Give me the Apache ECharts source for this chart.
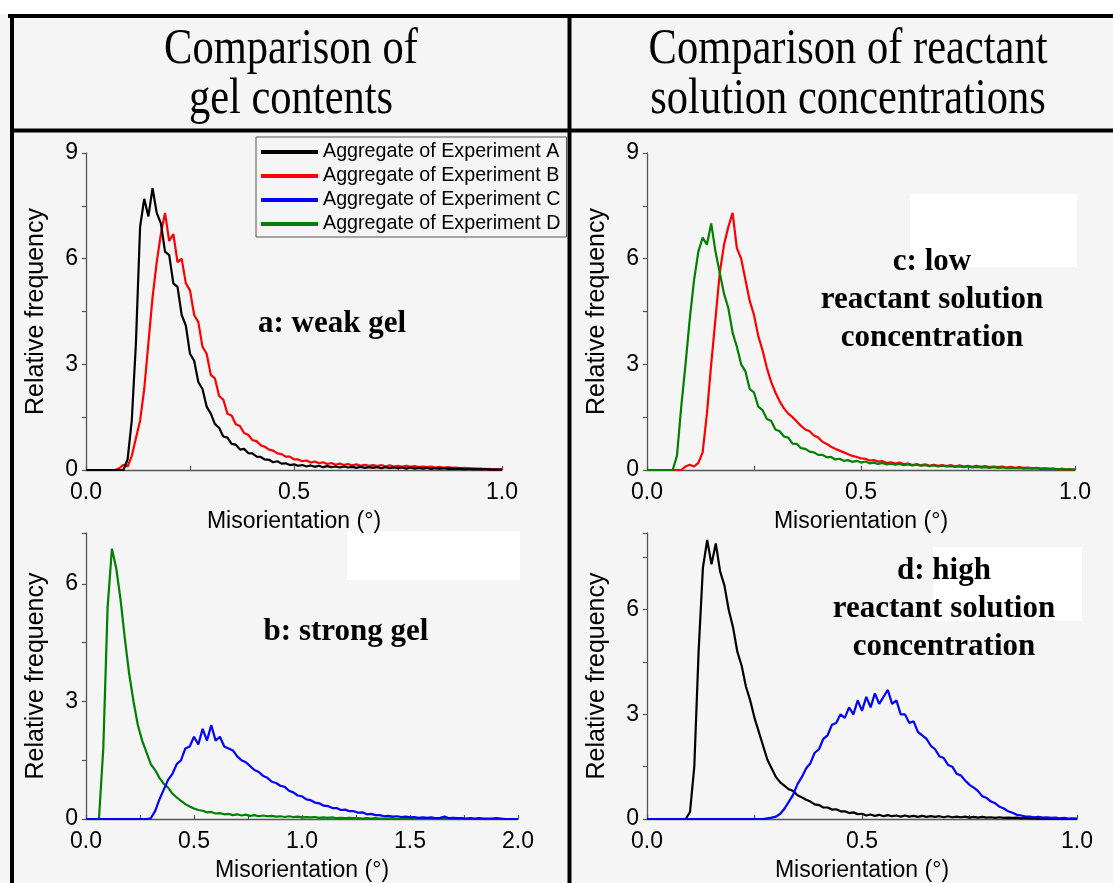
<!DOCTYPE html>
<html>
<head>
<meta charset="utf-8">
<title>Misorientation distributions</title>
<script src="https://cdn.jsdelivr.net/npm/echarts@6/dist/echarts.min.js"></script>
<style>
  html, body { margin: 0; padding: 0; background: #fff; }
  #chart { width: 1113px; height: 883px; }
</style>
</head>
<body>
<div id="chart"></div>
<script>
// bin widths (degrees) of the histograms
const BIN_FINE = 0.01   // panels a, c, d
const BIN_WIDE = 0.02   // panel b

const NAME_A = 'Aggregate of Experiment A'
const NAME_B = 'Aggregate of Experiment B'
const NAME_C = 'Aggregate of Experiment C'
const NAME_D = 'Aggregate of Experiment D'

// panel a: weak gel (0 - 1.0, step 0.01)
const aA = [0,0,0,0,0,0,0,0,0,0,
  0.3,1.4,3.6,6.9,7.7,7.2,8.0,7.3,7.0,6.2,
  6.1,5.3,5.2,4.4,4.1,3.3,3.1,2.5,2.3,1.8,
  1.6,1.3,1.2,0.95,0.92,0.74,0.72,0.58,0.6,0.48,
  0.47,0.38,0.37,0.3,0.29,0.22,0.25,0.18,0.19,0.14,
  0.16,0.12,0.14,0.1,0.13,0.09,0.12,0.08,0.11,0.08,
  0.1,0.07,0.1,0.07,0.09,0.06,0.09,0.06,0.08,0.06,
  0.08,0.05,0.08,0.05,0.07,0.05,0.07,0.04,0.07,0.04,
  0.06,0.04,0.06,0.03,0.05,0.03,0.05,0.03,0.04,0.03,
  0.04,0.02,0.04,0.02,0.03,0.02,0.03,0.01,0.02,0.01,
  0.01]
const aB = [0,0,0,0,0,0,0,0,0.05,0.15,
  0.1,0.4,0.9,1.4,2.3,3.6,4.9,5.9,6.7,7.3,
  6.5,6.7,5.9,6.0,5.3,5.1,4.4,4.2,3.5,3.3,
  2.7,2.6,2.1,2.0,1.6,1.55,1.3,1.25,1.05,1.0,
  0.85,0.82,0.7,0.66,0.58,0.55,0.47,0.45,0.38,0.38,
  0.3,0.3,0.25,0.27,0.21,0.24,0.19,0.22,0.17,0.2,
  0.15,0.18,0.14,0.17,0.13,0.16,0.12,0.15,0.12,0.14,
  0.11,0.14,0.1,0.13,0.1,0.12,0.09,0.12,0.09,0.11,
  0.08,0.1,0.08,0.1,0.07,0.09,0.06,0.08,0.06,0.07,
  0.05,0.06,0.04,0.05,0.03,0.04,0.02,0.03,0.01,0.02,
  0.01]

// panel b: strong gel (0 - 2.0, step 0.02)
const bD = [0,0,0,0,1.8,5.4,6.9,6.4,5.6,4.6,
  3.7,3.0,2.4,2.0,1.7,1.4,1.25,1.05,0.9,0.8,
  0.65,0.55,0.46,0.38,0.32,0.27,0.23,0.21,0.17,0.18,
  0.14,0.15,0.12,0.13,0.1,0.12,0.09,0.11,0.08,0.1,
  0.07,0.09,0.07,0.08,0.06,0.07,0.05,0.07,0.05,0.06,
  0.04,0.05,0.04,0.05,0.03,0.04,0.03,0.04,0.02,0.03,
  0.02,0.03,0.02,0.02,0.01,0.02,0.01,0.02,0.01,0.01,
  0.01,0.01,0,0.01,0,0.01,0,0,0.01,0,
  0,0,0,0,0,0,0,0,0,0,
  0,0,0,0,0,0,0,0,0,0,
  0]
const bC = [0,0,0,0,0,0,0,0,0,0,
  0,0,0,0,0,0.02,0.2,0.5,0.75,1.0,
  1.15,1.4,1.5,1.8,1.85,2.1,1.9,2.3,2.0,2.4,
  2.0,2.1,1.85,1.8,1.75,1.6,1.5,1.45,1.35,1.25,
  1.2,1.1,1.05,0.95,0.92,0.85,0.82,0.72,0.68,0.6,
  0.58,0.5,0.48,0.42,0.4,0.34,0.33,0.28,0.28,0.23,
  0.24,0.2,0.2,0.16,0.17,0.12,0.13,0.1,0.1,0.07,
  0.08,0.06,0.07,0.05,0.06,0.04,0.05,0.03,0.04,0.03,
  0.04,0.02,0.03,0.06,0.02,0.03,0.02,0.02,0.01,0.02,
  0.01,0.02,0.01,0.01,0.01,0.02,0.01,0,0,0,
  0]

// panel c: low reactant solution concentration (0 - 1.0, step 0.01)
const cB = [0,0,0,0,0,0,0,0,0,0.1,
  0.15,0.1,0.2,0.5,1.6,3.0,4.3,5.6,6.4,6.9,
  7.3,6.3,6.0,5.4,4.8,4.4,3.8,3.4,2.9,2.5,
  2.2,1.95,1.75,1.6,1.5,1.38,1.25,1.15,1.1,0.98,
  0.92,0.8,0.74,0.66,0.6,0.55,0.5,0.45,0.4,0.37,
  0.33,0.32,0.27,0.28,0.24,0.25,0.2,0.22,0.18,0.21,
  0.17,0.18,0.14,0.17,0.13,0.16,0.12,0.15,0.12,0.14,
  0.11,0.14,0.1,0.13,0.1,0.12,0.09,0.12,0.09,0.11,
  0.08,0.1,0.08,0.1,0.07,0.09,0.06,0.08,0.06,0.07,
  0.05,0.06,0.04,0.05,0.03,0.04,0.02,0.03,0.01,0.02,
  0.01]
const cD = [0,0,0,0,0,0,0,0.4,1.8,3.0,
  4.3,5.4,6.2,6.6,6.4,7.0,6.2,5.6,5.0,4.6,
  3.9,3.5,3.0,2.8,2.3,2.2,1.8,1.7,1.45,1.4,
  1.15,1.1,0.95,0.92,0.75,0.74,0.62,0.6,0.52,0.5,
  0.43,0.43,0.36,0.37,0.3,0.32,0.26,0.28,0.23,0.26,
  0.21,0.24,0.19,0.21,0.17,0.2,0.16,0.18,0.15,0.17,
  0.14,0.16,0.13,0.15,0.12,0.14,0.11,0.13,0.1,0.12,
  0.1,0.11,0.09,0.1,0.08,0.1,0.07,0.09,0.07,0.08,
  0.06,0.08,0.06,0.07,0.05,0.06,0.05,0.06,0.04,0.05,
  0.04,0.05,0.03,0.04,0.03,0.03,0.02,0.03,0.02,0.02,
  0.01]

// panel d: high reactant solution concentration (0 - 1.0, step 0.01)
const dA = [0,0,0,0,0,0,0,0,0,0,
  0.2,1.5,4.8,7.2,8.0,7.3,7.9,7.1,6.7,6.0,
  5.5,4.8,4.4,3.8,3.4,2.9,2.5,2.1,1.7,1.45,
  1.2,1.05,0.95,0.85,0.8,0.68,0.62,0.55,0.5,0.42,
  0.4,0.33,0.33,0.27,0.28,0.22,0.22,0.17,0.19,0.14,
  0.15,0.1,0.13,0.09,0.12,0.08,0.11,0.08,0.1,0.07,
  0.1,0.07,0.09,0.06,0.09,0.06,0.08,0.06,0.08,0.05,
  0.08,0.05,0.07,0.05,0.07,0.04,0.06,0.04,0.06,0.04,
  0.05,0.03,0.05,0.03,0.04,0.03,0.04,0.02,0.03,0.02,
  0.02,0.01,0.02,0.01,0,0.01,0,0,0,0,
  0]
const dC = [0,0,0,0,0,0,0,0,0,0,
  0,0,0,0,0,0,0,0,0,0,
  0,0,0,0,0,0,0,0,0.02,0.04,
  0.07,0.15,0.3,0.5,0.7,1.0,1.2,1.45,1.6,1.9,
  2.0,2.3,2.4,2.7,2.75,3.0,2.9,3.2,3.0,3.4,
  3.1,3.5,3.2,3.6,3.3,3.5,3.7,3.3,3.4,3.0,
  3.0,2.75,2.8,2.5,2.4,2.3,2.1,2.0,1.8,1.75,
  1.55,1.5,1.3,1.25,1.1,0.98,0.9,0.8,0.65,0.6,
  0.5,0.45,0.35,0.3,0.22,0.18,0.12,0.1,0.07,0.07,
  0.05,0.06,0.04,0.05,0.03,0.04,0.02,0.03,0.01,0.02,
  0.01]

const SANS = '"Liberation Sans", Arial, sans-serif'
const SERIF = '"Liberation Serif", "Times New Roman", serif'
const COLORS = { A: '#000000', B: '#ff0000', C: '#0000ff', D: '#008000' }

// histogram values -> [x, y] pairs on the bin grid
function pairs(values, step) {
  return values.map((v, i) => [+(i * step).toFixed(3), v])
}

function xAxis(gridIndex, max) {
  return {
    type: 'value', gridIndex, min: 0, max, interval: 0.25,
    name: 'Misorientation (°)', nameLocation: 'middle', nameGap: 40,
    nameTextStyle: { fontSize: 23, color: '#000', fontFamily: SANS },
    axisLine: { onZero: false, lineStyle: { color: '#555', width: 1.3 } },
    axisTick: { inside: true, length: 4, lineStyle: { color: '#555', width: 1.2 } },
    axisLabel: {
      fontSize: 23, color: '#000', fontFamily: SANS, margin: 11,
      formatter: (v) => (Math.abs(v * 2 - Math.round(v * 2)) < 1e-6 ? v.toFixed(1) : '')
    },
    splitLine: { show: false }
  }
}

function yAxis(gridIndex, max) {
  return {
    type: 'value', gridIndex, min: 0, max, interval: 1.5,
    name: 'Relative frequency', nameLocation: 'middle', nameGap: 37,
    nameTextStyle: { fontSize: 25, color: '#000', fontFamily: SANS },
    axisLine: { show: true, onZero: false, lineStyle: { color: '#555', width: 1.3 } },
    axisTick: { show: true, length: 4, lineStyle: { color: '#555', width: 1.2 } },
    axisLabel: {
      fontSize: 23, color: '#000', fontFamily: SANS, margin: 8,
      formatter: (v) => (Math.abs(v % 3) < 1e-6 ? String(v) : '')
    },
    splitLine: { show: false }
  }
}

function line(name, color, data, axis) {
  return {
    name, type: 'line', xAxisIndex: axis, yAxisIndex: axis,
    data, showSymbol: false, symbol: 'none',
    color, lineStyle: { color, width: 2.2 },
    emphasis: { disabled: true }
  }
}

function label(x, y, text, size) {
  return {
    type: 'text', x, y, z: 10,
    style: {
      text, fill: '#000', fontSize: size, fontWeight: 'bold', fontFamily: SERIF,
      lineHeight: 38, align: 'center', textAlign: 'center',
      verticalAlign: 'middle', textVerticalAlign: 'middle'
    }
  }
}

function header(x, y, text) {
  return {
    type: 'text', x, y, scaleX: 0.85, z: 10,
    style: {
      text, fill: '#000', fontSize: 50, fontFamily: SERIF,
      align: 'center', textAlign: 'center',
      verticalAlign: 'middle', textVerticalAlign: 'middle'
    }
  }
}

function rule(x1, y1, x2, y2) {
  return {
    type: 'line', z: 10,
    shape: { x1, y1, x2, y2 },
    style: { stroke: '#000', lineWidth: 4 }
  }
}

function patch(x, y, width, height) {
  return { type: 'rect', z: -1, shape: { x, y, width, height }, style: { fill: '#ffffff' } }
}

const chart = echarts.init(document.getElementById('chart'), null, { renderer: 'canvas' })

chart.setOption({
  animation: false,
  backgroundColor: '#f5f5f5',
  legend: {
    data: [NAME_A, NAME_B, NAME_C, NAME_D],
    orient: 'vertical', left: 256, top: 137,
    icon: 'rect', itemWidth: 57, itemHeight: 4, itemGap: 4,
    padding: [5, 6, 3, 5],
    borderColor: '#555', borderWidth: 1,
    textStyle: { fontSize: 19.7, color: '#000', fontFamily: SANS }
  },
  grid: [
    { left: 86, top: 153, width: 416, height: 317 },
    { left: 86, top: 533, width: 432, height: 291 },
    { left: 647, top: 153, width: 428, height: 317 },
    { left: 647, top: 533, width: 430, height: 291 }
  ],
  xAxis: [xAxis(0, 1), xAxis(1, 2), xAxis(2, 1), xAxis(3, 1)],
  yAxis: [yAxis(0, 9), yAxis(1, 7.3), yAxis(2, 9), yAxis(3, 8.2)],
  series: [
    line(NAME_B, COLORS.B, pairs(aB, BIN_FINE), 0),
    line(NAME_A, COLORS.A, pairs(aA, BIN_FINE), 0),
    line(NAME_D, COLORS.D, pairs(bD, BIN_WIDE), 1),
    line(NAME_C, COLORS.C, pairs(bC, BIN_WIDE), 1),
    line(NAME_B, COLORS.B, pairs(cB, BIN_FINE), 2),
    line(NAME_D, COLORS.D, pairs(cD, BIN_FINE), 2),
    line(NAME_A, COLORS.A, pairs(dA, BIN_FINE), 3),
    line(NAME_C, COLORS.C, pairs(dC, BIN_FINE), 3)
  ],
  graphic: [
    { type: 'rect', z: -1, shape: { x: 0, y: 0, width: 1113, height: 14 }, style: { fill: '#ffffff' } },
    patch(347, 531, 173, 49),
    patch(910, 194, 167, 73),
    patch(933, 547, 149, 74),
    // table frame
    rule(8, 16, 1113, 16),
    rule(12, 14, 12, 883),
    rule(10, 130.5, 1113, 130.5),
    rule(569.5, 14, 569.5, 883),
    header(291, 50, 'Comparison of'),
    header(291, 100, 'gel contents'),
    header(848, 50, 'Comparison of reactant'),
    header(848, 100, 'solution concentrations'),
    label(332, 324, 'a: weak gel', 31),
    label(346, 632, 'b: strong gel', 31),
    label(932, 300, 'c: low\nreactant solution\nconcentration', 31),
    label(944, 609, 'd: high\nreactant solution\nconcentration', 31)
  ]
})
</script>
</body>
</html>
